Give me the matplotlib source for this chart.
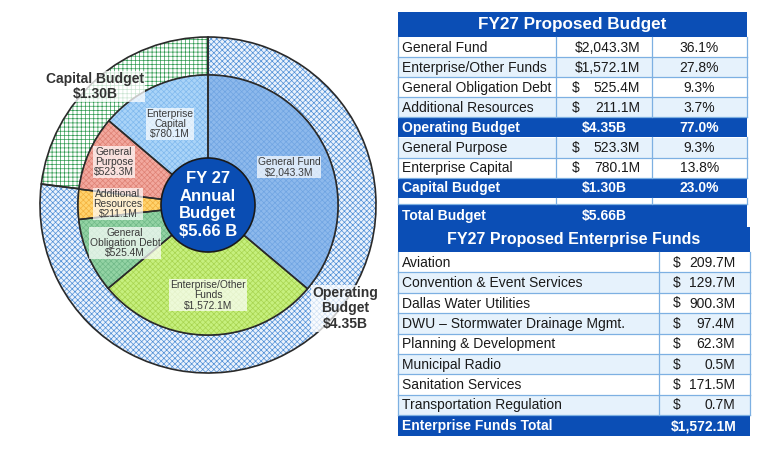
import matplotlib
matplotlib.use('Agg')
import matplotlib.pyplot as plt
from matplotlib.patches import Rectangle, Circle

plt.rcParams['font.family'] = ['Liberation Sans', 'DejaVu Sans']
plt.rcParams['hatch.linewidth'] = 0.5

# ---- data ----
inner_names = ['General Fund', 'Enterprise/Other\nFunds', 'General\nObligation Debt',
               'Additional\nResources', 'General\nPurpose', 'Enterprise\nCapital']
inner_values = [2043.3, 1572.1, 525.4, 211.1, 523.3, 780.1]   # $M
outer_names = ['Operating\nBudget', 'Capital Budget']
outer_values = [4.35, 1.30]   # $B
total_budget = 5.66

budget_labels = ['General Fund', 'Enterprise/Other Funds', 'General Obligation Debt',
                 'Additional Resources', 'Operating Budget', 'General Purpose',
                 'Enterprise Capital', 'Capital Budget', '', 'Total Budget']
budget_amounts = [2043.3, 1572.1, 525.4, 211.1, 4.35, 523.3, 780.1, 1.30, None, 5.66]
budget_pcts = [36.1, 27.8, 9.3, 3.7, 77.0, 9.3, 13.8, 23.0, None, None]

ent_labels = ['Aviation', 'Convention & Event Services', 'Dallas Water Utilities',
              'DWU \u2013 Stormwater Drainage Mgmt.', 'Planning & Development',
              'Municipal Radio', 'Sanitation Services', 'Transportation Regulation']
ent_amounts = [209.7, 129.7, 900.3, 97.4, 62.3, 0.5, 171.5, 0.7]
ent_total = 1572.1

# ---- styling ----
DARK = '#0B4EB5'
PALE = '#E6F2FC'
GRID = '#7DB0E2'
TXT = '#1a1a1a'
inner_fill = ['#8DB9EC', '#C6F07E', '#93D3A4', '#FFD36E', '#F2A89E', '#AAD4F8']
inner_hatch_col = ['#6FA4E2', '#A8D450', '#70B988', '#F4B23E', '#DE8174', '#80B9EE']
outer_fill = ['#EAF2FC', '#FFFFFF']
outer_hatch_col = ['#4F8FD6', '#2F9A50']
outer_hatch = ['xxxxxx', '++++']

W, H = 775, 461
fig = plt.figure(figsize=(W / 100, H / 100), dpi=100)

# table canvas in pixel coordinates
ax_t = fig.add_axes([0, 0, 1, 1])
ax_t.set_xlim(0, W)
ax_t.set_ylim(H, 0)
ax_t.axis('off')

# pie canvas
cx, cy, R = 208, 205, 168
half = 170
ax = fig.add_axes([(cx - half) / W, (H - cy - half) / H, 2 * half / W, 2 * half / H])
ax.set_zorder(2)
r_in = 130 / R

w_out, _ = ax.pie(outer_values, radius=1, startangle=90, counterclock=False,
                  colors=outer_fill, hatch=outer_hatch,
                  wedgeprops=dict(width=1 - r_in, linewidth=0))
for w, hc in zip(w_out, outer_hatch_col):
    w.set_edgecolor(hc)
ax.pie(outer_values, radius=1, startangle=90, counterclock=False,
       wedgeprops=dict(width=1 - r_in, fill=False, edgecolor='#2a2a2a', linewidth=1.2))

w_in, _ = ax.pie(inner_values, radius=r_in, startangle=90, counterclock=False,
                 colors=inner_fill, hatch='xxxxxx', wedgeprops=dict(linewidth=0))
for w, hc in zip(w_in, inner_hatch_col):
    w.set_edgecolor(hc)
ax.pie(inner_values, radius=r_in, startangle=90, counterclock=False,
       wedgeprops=dict(fill=False, edgecolor='#2a2a2a', linewidth=1.1))

ax.add_patch(Circle((0, 0), 47 / R, facecolor='#0A4DB3', edgecolor='#1a1a1a',
                    linewidth=1.2, zorder=5))
ax.text(0, 0, f'FY 27\nAnnual\nBudget\n${total_budget:.2f} B', color='white',
        fontsize=12, fontweight='bold', ha='center', va='center',
        linespacing=1.2, zorder=6)

inner_pos = [(0.482, 0.226), (0.0, -0.536), (-0.494, -0.226),
             (-0.536, 0.006), (-0.560, 0.256), (-0.226, 0.482)]
box = dict(boxstyle='square,pad=0.08', fc='white', ec='none', alpha=0.7)
for name, v, (x, y) in zip(inner_names, inner_values, inner_pos):
    ax.text(x, y, f'{name}\n${v:,.1f}M', fontsize=7.4, color='#3a3a3a',
            ha='center', va='center', linespacing=1.05, bbox=box, zorder=6)

outer_pos = [(0.815, -0.615), (-0.673, 0.705)]
for name, v, (x, y) in zip(outer_names, outer_values, outer_pos):
    ax.text(x, y, f'{name}\n${v:.2f}B', fontsize=10, fontweight='bold', color='#333333',
            ha='center', va='center', linespacing=1.15, zorder=6,
            bbox=dict(boxstyle='square,pad=0.08', fc='white', ec='none', alpha=0.75))

ax.set_xlim(-half / R, half / R)
ax.set_ylim(-half / R, half / R)
ax.set_aspect('equal')
ax.axis('off')


def row(y0, y1, x0, x1, color, dividers):
    ax_t.add_patch(Rectangle((x0, y0), x1 - x0, y1 - y0, facecolor=color,
                             edgecolor='none'))
    if color != DARK:
        ax_t.plot([x0, x1], [y1, y1], color=GRID, lw=0.9)
        for d in [x0, x1] + dividers:
            ax_t.plot([d, d], [y0, y1], color=GRID, lw=0.9)


def money(x_dollar, x_right, ym, v):
    if v >= 1000:
        ax_t.text(x_right, ym, f'${v:,.1f}M', color=TXT, fontsize=10, ha='right',
                  va='center')
    else:
        ax_t.text(x_dollar, ym, '$', color=TXT, fontsize=10, va='center')
        ax_t.text(x_right, ym, f'{v:,.1f}M', color=TXT, fontsize=10, ha='right',
                  va='center')


# ---- table 1 ----
tx0, tx1 = 398, 747
c1, c2 = 556, 652
ax_t.add_patch(Rectangle((tx0, 12), tx1 - tx0, 25, facecolor=DARK, edgecolor='none'))
ax_t.text((tx0 + tx1) / 2, 24.5, 'FY27 Proposed Budget', color='white', fontsize=12.3,
          fontweight='bold', ha='center', va='center')
row_colors1 = ['white', PALE, 'white', PALE, DARK, PALE, 'white', DARK, 'white', DARK]
y = 37
rh = 20.1
for lab, amt, pct, col in zip(budget_labels, budget_amounts, budget_pcts, row_colors1):
    if amt is None:
        h = 6
    elif lab == 'Total Budget':
        h = 23
    else:
        h = rh
    row(y, y + h, tx0, tx1, col, [c1, c2])
    ym = y + h / 2 + 0.5
    if col == DARK:
        ax_t.text(tx0 + 4, ym, lab, color='white', fontsize=10, fontweight='bold',
                  va='center')
        ax_t.text((c1 + c2) / 2, ym, f'${amt:.2f}B', color='white', fontsize=10,
                  fontweight='bold', ha='center', va='center')
        if pct is not None:
            ax_t.text((c2 + tx1) / 2, ym, f'{pct:.1f}%', color='white', fontsize=10,
                      fontweight='bold', ha='center', va='center')
    elif amt is not None:
        ax_t.text(tx0 + 4, ym, lab, color=TXT, fontsize=10, va='center')
        money(572, 640, ym, amt)
        ax_t.text((c2 + tx1) / 2, ym, f'{pct:.1f}%', color=TXT, fontsize=10,
                  ha='center', va='center')
    y += h

# ---- table 2 ----
ux0, ux1, ud = 398, 750, 659
ax_t.add_patch(Rectangle((ux0, 227), ux1 - ux0, 25, facecolor=DARK, edgecolor='none'))
ax_t.text((ux0 + ux1) / 2, 239.5, 'FY27 Proposed Enterprise Funds', color='white',
          fontsize=11.5, fontweight='bold', ha='center', va='center')
y = 252
rh2 = 20.4
for i, (lab, amt) in enumerate(zip(ent_labels, ent_amounts)):
    col = 'white' if i % 2 == 0 else PALE
    row(y, y + rh2, ux0, ux1, col, [ud])
    ym = y + rh2 / 2 + 0.5
    ax_t.text(ux0 + 4, ym, lab, color=TXT, fontsize=10, va='center')
    money(673, 735, ym, amt)
    y += rh2
ax_t.add_patch(Rectangle((ux0, y), ux1 - ux0, 436 - y, facecolor=DARK, edgecolor='none'))
ym = (y + 436) / 2 + 0.5
ax_t.text(ux0 + 4, ym, 'Enterprise Funds Total', color='white', fontsize=10,
          fontweight='bold', va='center')
ax_t.text(737, ym, f'${ent_total:,.1f}M', color='white', fontsize=10,
          fontweight='bold', ha='right', va='center')

fig.savefig('out.png', dpi=100, facecolor='white')
